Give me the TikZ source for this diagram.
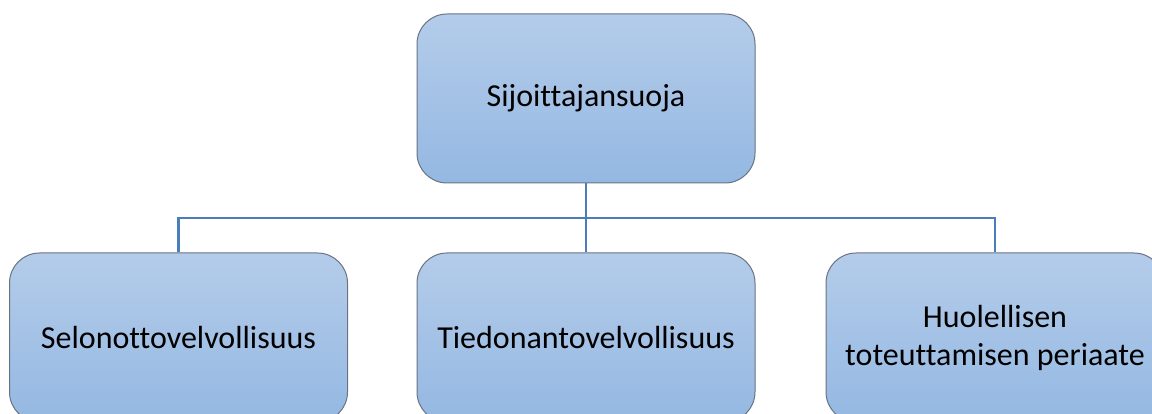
\documentclass[tikz,border=0pt]{standalone}
\usepackage{fontspec}
\setmainfont{Carlito}[Ligatures={NoCommon}]
\definecolor{boxtop}{RGB}{180,204,234}
\definecolor{boxbot}{RGB}{148,184,226}
\definecolor{boxline}{RGB}{105,115,130}
\definecolor{linkblue}{RGB}{74,126,187}
\tikzset{
  card/.style={draw=boxline, line width=1pt, rounded corners=30pt,
    top color=boxtop, bottom color=boxbot,
    minimum width=338pt, minimum height=169pt, inner sep=0pt,
    align=center, font=\fontsize{32}{38}\selectfont},
  link/.style={draw=linkblue, line width=2.8pt}
}
\begin{document}
\begin{tikzpicture}[x=1pt, y=-1pt]
  \useasboundingbox (0,0) rectangle (1152,414);
  \clip (0,0) rectangle (1152,414);
  \fill[white] (0,0) rectangle (1152,414);
  \coordinate (bar) at (586,218);
  \node[card] (root) at (586,98.5) {Sijoittajansuoja};
  \node[card] (left) at (178.5,337.5) {Selonottovelvollisuus};
  \node[card] (mid) at (586,337.5) {Tiedonantovelvollisuus};
  \node[card] (right) at (995,337.5) {Huolellisen\\toteuttamisen periaate};
  \draw[link] (root.south) -- (mid.north);
  \draw[link] (left.north) |- (bar) -| (right.north);
\end{tikzpicture}
\end{document}
